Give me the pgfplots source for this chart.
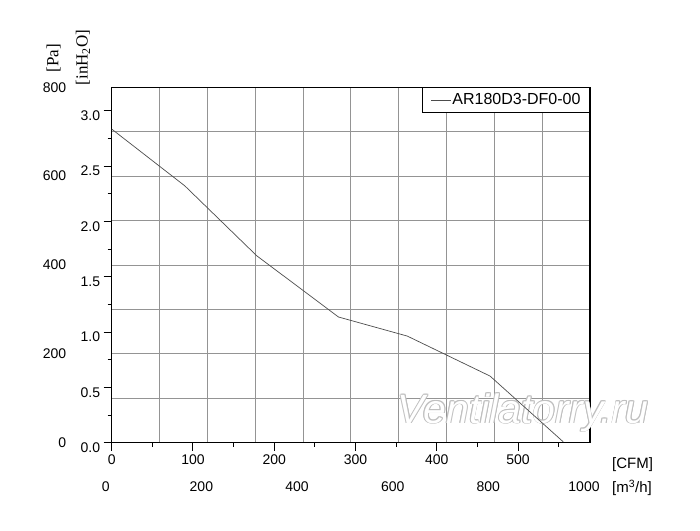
\documentclass[border=0pt]{standalone}
\usepackage{fontspec}
\setmainfont{Liberation Sans}
\newfontfamily\seriffont{Liberation Serif}
\usepackage{pgfplots}
\pgfplotsset{compat=1.18}
\tikzset{wm/.style={text=black!25, font=\fontsize{41}{43}\selectfont\itshape, inner sep=0}}

\begin{document}
\begin{tikzpicture}[x=1pt,y=1pt]
\useasboundingbox (0,0) rectangle (700,530);
% main axis (m^3/h, Pa)
\begin{axis}[
  at={(111.7pt,87.3pt)}, anchor=south west,
  scale only axis, width=478.3pt, height=355.4pt,
  xmin=0, xmax=1000, ymin=0, ymax=800,
  xtick={0,100,...,1000}, ytick={0,100,...,800},
  xticklabels={0,,200,,400,,600,,800,,1000},
  yticklabels={0,,200,,400,,600,,800},
  major tick length=0pt,
  grid=major,
  major grid style={draw=black!42, line width=0.8pt},
  axis line style={line width=1.2pt},
  tick label style={font=\fontsize{14}{16}\selectfont},
  xticklabel style={yshift=-35.5pt, xshift=-6pt},
  yticklabel style={xshift=-42pt},
  clip=false,
  legend style={at={(1,1)}, anchor=north east, draw=black, line width=1pt,
    font=\fontsize{16}{18}\selectfont, inner xsep=8pt, inner ysep=5pt,
    nodes={inner sep=1pt}},
  legend image code/.code={\draw[#1] (0pt,0pt) -- (20pt,0pt);},
]
% watermark (outlined text)
\node[wm, xshift=0.8pt] at (axis cs:860,68) {Ventilatorry.ru};
\node[wm, xshift=-0.8pt] at (axis cs:860,68) {Ventilatorry.ru};
\node[wm, yshift=0.8pt] at (axis cs:860,68) {Ventilatorry.ru};
\node[wm, yshift=-0.8pt] at (axis cs:860,68) {Ventilatorry.ru};
\node[wm, xshift=0.6pt, yshift=0.6pt] at (axis cs:860,68) {Ventilatorry.ru};
\node[wm, xshift=-0.6pt, yshift=0.6pt] at (axis cs:860,68) {Ventilatorry.ru};
\node[wm, xshift=0.6pt, yshift=-0.6pt] at (axis cs:860,68) {Ventilatorry.ru};
\node[wm, xshift=-0.6pt, yshift=-0.6pt] at (axis cs:860,68) {Ventilatorry.ru};
\node[wm, text=white] at (axis cs:860,68) {Ventilatorry.ru};
\addplot[black!70, line width=0.7pt] coordinates {
  (0,706) (153,578) (303,421) (474,283) (618,240) (791,150) (944,2)
};
\addlegendentry{AR180D3-DF0-00}
\end{axis}
% secondary scales (CFM, inH2O)
\begin{axis}[
  at={(111.7pt,87.3pt)}, anchor=south west,
  scale only axis, width=478.3pt, height=355.4pt,
  xmin=0, xmax=588.58, ymin=0, ymax=3.2117,
  axis x line*=bottom, axis y line*=left,
  axis line style={draw=none},
  xtick={0,100,...,500}, minor xtick={50,150,...,550},
  ytick={0,0.5,...,3.0}, minor ytick={0.25,0.75,...,2.75},
  tick align=outside, major tick length=8pt, minor tick length=4pt,
  every tick/.style={black, line width=1pt},
  /pgf/number format/assume math mode=true,
  tick label style={font=\fontsize{14}{16}\selectfont},
  yticklabel style={/pgf/number format/.cd, fixed, fixed zerofill, precision=1, /tikz/.cd, yshift=-5pt},
]
\end{axis}
% axis titles
\node[anchor=west, inner sep=0, font=\fontsize{15}{17}\selectfont] at (612,65) {[CFM]};
\node[anchor=west, inner sep=0, font=\fontsize{15}{17}\selectfont] at (612,42) {[m\textsuperscript{3}/h]};
\node[rotate=90, inner sep=0, font=\fontsize{17}{19}\selectfont\seriffont] at (53.5,472) {[Pa]};
\node[rotate=90, inner sep=0, font=\fontsize{17}{19}\selectfont\seriffont] at (83,472.5) {[inH\textsubscript{2}O]};
\end{tikzpicture}
\end{document}
